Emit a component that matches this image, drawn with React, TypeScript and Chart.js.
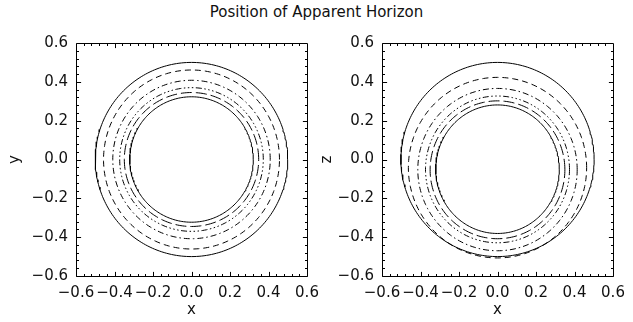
import React, { useEffect, useRef } from "react";
import { Chart, registerables } from "chart.js";

Chart.register(...registerables);

const W = 633;
const H = 322;

// Axis range and labelled ticks (both panels share them)
const axisMin = -0.6;
const axisMax = 0.6;
const majorTicks = [-0.6, -0.4, -0.2, 0.0, 0.2, 0.4, 0.6];
const minorDivisions = 5;

// Horizon contours in the x-y plane: centre and semi-axes of each curve
const xyCenterX = [0, 0, 0, 0, 0, 0];
const xyCenterY = [0, 0, 0, 0, 0, 0];
const xyRadiusX = [0.5, 0.457, 0.409, 0.373, 0.349, 0.321];
const xyRadiusY = [0.5, 0.461, 0.408, 0.37, 0.345, 0.323];

// Horizon contours in the x-z plane
const xzCenterX = [0, 0, 0, 0, 0, 0];
const xzCenterZ = [0, -0.042, -0.052, -0.051, -0.053, -0.05];
const xzRadiusX = [0.502, 0.463, 0.414, 0.374, 0.35, 0.321];
const xzRadiusZ = [0.5, 0.465, 0.418, 0.378, 0.355, 0.331];

// Line styles: solid, dashed, dash-dot, dash-dot-dot-dot, long dash, solid
const lineStyles: number[][] = [
  [],
  [6, 4],
  [6, 3, 1.5, 3],
  [6, 2.5, 1.5, 2.5, 1.5, 2.5, 1.5, 2.5],
  [11, 4],
  [],
];

const FONT = "DejaVu Sans";
const TEXT = "#111";

function ring(cx: number, cy: number, rx: number, ry: number) {
  const pts: { x: number; y: number }[] = [];
  const n = 240;
  for (let i = 0; i <= n; i++) {
    const t = (i / n) * Math.PI * 2;
    pts.push({ x: cx + rx * Math.cos(t), y: cy + ry * Math.sin(t) });
  }
  return pts;
}

const fmt = (v: number | string) => {
  const n = Number(v);
  const s = (Math.abs(n) < 1e-9 ? 0 : n).toFixed(1);
  return s.replace("-", "\u2212");
};

// Closed frame with inward major/minor ticks on all four sides
const framePlugin = {
  id: "idlFrame",
  afterDraw(chart: any) {
    const { ctx, chartArea: a, scales } = chart;
    const xs = scales.x;
    const ys = scales.y;
    const L = Math.round(a.left) + 0.5;
    const R = Math.round(a.right) + 0.5;
    const T = Math.round(a.top) + 0.5;
    const B = Math.round(a.bottom) + 0.5;
    const major = 4.6;
    const minor = 2.5;
    ctx.save();
    ctx.strokeStyle = "#000";
    ctx.lineWidth = 1;
    ctx.beginPath();
    ctx.rect(L, T, R - L, B - T);
    ctx.stroke();
    ctx.beginPath();
    for (let j = 0; j < majorTicks.length - 1; j++) {
      const a0 = majorTicks[j];
      const a1 = majorTicks[j + 1];
      for (let k = 0; k < minorDivisions; k++) {
        const v = a0 + ((a1 - a0) * k) / minorDivisions;
        const len = k === 0 ? major : minor;
        const px = Math.round(xs.getPixelForValue(v)) + 0.5;
        ctx.moveTo(px, B);
        ctx.lineTo(px, B - len);
        ctx.moveTo(px, T);
        ctx.lineTo(px, T + len);
        const py = Math.round(ys.getPixelForValue(v)) + 0.5;
        ctx.moveTo(L, py);
        ctx.lineTo(L + len, py);
        ctx.moveTo(R, py);
        ctx.lineTo(R - len, py);
      }
    }
    ctx.stroke();
    ctx.restore();
  },
};

type Panel = {
  cx: number[];
  cy: number[];
  rx: number[];
  ry: number[];
  xTitle: string;
  yTitle: string;
  padLeft: number;
  padRight: number;
  yAxisWidth: number;
  yTitlePad: number;
};

function makeChart(canvas: HTMLCanvasElement, p: Panel) {
  const datasets = p.cx.map((_, i) => ({
    data: ring(p.cx[i], p.cy[i], p.rx[i], p.ry[i]),
    showLine: true,
    borderColor: "#000",
    borderWidth: 1,
    borderDash: lineStyles[i],
    pointRadius: 0,
    fill: false,
    tension: 0,
  }));
  const tickFont = { family: FONT, size: 15 };
  return new Chart(canvas, {
    type: "scatter",
    data: { datasets },
    options: {
      animation: false,
      responsive: false,
      maintainAspectRatio: false,
      layout: { padding: { left: p.padLeft, right: p.padRight, top: 43, bottom: 0 } },
      plugins: {
        legend: { display: false },
        tooltip: { enabled: false },
        title: { display: false },
      },
      scales: {
        x: {
          type: "linear",
          min: axisMin,
          max: axisMax,
          afterBuildTicks: (s: any) => {
            s.ticks = majorTicks.map((v) => ({ value: v }));
          },
          afterFit: (s: any) => {
            s.height = 46;
            s.paddingLeft = 0;
            s.paddingRight = 0;
          },
          grid: { display: false, drawTicks: false },
          border: { display: false },
          ticks: {
            padding: 8,
            maxRotation: 0,
            autoSkip: false,
            font: tickFont,
            color: TEXT,
            callback: fmt,
          },
          title: {
            display: true,
            text: p.xTitle,
            font: tickFont,
            color: TEXT,
            padding: { top: 0, bottom: 3 },
          },
        },
        y: {
          type: "linear",
          min: axisMin,
          max: axisMax,
          afterBuildTicks: (s: any) => {
            s.ticks = majorTicks.map((v) => ({ value: v }));
          },
          afterFit: (s: any) => {
            s.width = p.yAxisWidth;
            s.paddingTop = 0;
            s.paddingBottom = 0;
          },
          grid: { display: false, drawTicks: false },
          border: { display: false },
          ticks: {
            padding: 8,
            autoSkip: false,
            font: tickFont,
            color: TEXT,
            callback: fmt,
          },
          title: {
            display: true,
            text: p.yTitle,
            font: tickFont,
            color: TEXT,
            padding: { top: p.yTitlePad, bottom: 0 },
          },
        },
      },
    } as any,
    plugins: [framePlugin],
  });
}

const leftPanel: Panel = {
  cx: xyCenterX,
  cy: xyCenterY,
  rx: xyRadiusX,
  ry: xyRadiusY,
  xTitle: "x",
  yTitle: "y",
  padLeft: 0,
  padRight: W - 307,
  yAxisWidth: 76,
  yTitlePad: 6,
};

const rightPanel: Panel = {
  cx: xzCenterX,
  cy: xzCenterZ,
  rx: xzRadiusX,
  ry: xzRadiusZ,
  xTitle: "x",
  yTitle: "z",
  padLeft: 316,
  padRight: W - 613,
  yAxisWidth: 66,
  yTitlePad: 2,
};

export default function App() {
  const leftRef = useRef<HTMLCanvasElement>(null);
  const rightRef = useRef<HTMLCanvasElement>(null);

  useEffect(() => {
    const charts: Chart[] = [];
    if (leftRef.current) charts.push(makeChart(leftRef.current, leftPanel));
    if (rightRef.current) charts.push(makeChart(rightRef.current, rightPanel));
    return () => charts.forEach((c) => c.destroy());
  }, []);

  const canvasStyle: React.CSSProperties = {
    position: "absolute",
    left: 0,
    top: 0,
    width: W,
    height: H,
    display: "block",
  };

  return (
    <div style={{ position: "absolute", left: 0, top: 0, width: W, height: H, background: "#fff" }}>
      <div
        style={{
          position: "absolute",
          left: 0,
          top: 5,
          width: W,
          textAlign: "center",
          fontFamily: FONT,
          fontSize: 15,
          lineHeight: "15px",
          color: TEXT,
          whiteSpace: "nowrap",
        }}
      >
        Position of Apparent Horizon
      </div>
      <canvas ref={leftRef} width={W} height={H} style={canvasStyle} />
      <canvas ref={rightRef} width={W} height={H} style={canvasStyle} />
    </div>
  );
}
